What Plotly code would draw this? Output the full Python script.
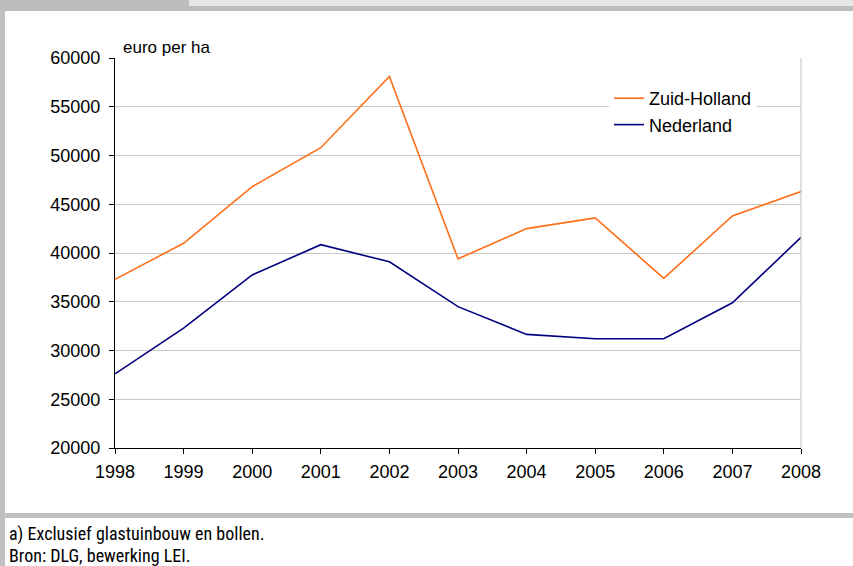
import plotly.graph_objects as go

# Data
years = [1998, 1999, 2000, 2001, 2002, 2003, 2004, 2005, 2006, 2007, 2008]
zuid_holland = [37300, 41000, 46800, 50800, 58100, 39400, 42500, 43600, 37400, 43800, 46300]
nederland = [27600, 32300, 37750, 40850, 39100, 34500, 31650, 31200, 31200, 34900, 41600]

W, H = 853, 566
L, R, T, B = 115, 52, 58, 118
PW, PH = W - L - R, H - T - B


def px_x(x):
    return (x - L) / PW


def px_y(y):
    return 1 - (y - T) / PH


fig = go.Figure()
fig.add_trace(go.Scatter(x=years, y=zuid_holland, name="Zuid-Holland", mode="lines",
                         line=dict(color="#FF6F1A", width=1.6), legendgroup="a"))
fig.add_trace(go.Scatter(x=years, y=nederland, name="Nederland", mode="lines",
                         line=dict(color="#000080", width=1.6), legendgroup="b"))

grey = "#c0c0c0"
shapes = [
    # frame pieces
    dict(type="rect", x0=px_x(0), x1=px_x(5), y0=px_y(0), y1=px_y(H), fillcolor=grey),
    dict(type="rect", x0=px_x(0), x1=px_x(189), y0=px_y(0), y1=px_y(6), fillcolor="#bdbdbd"),
    dict(type="rect", x0=px_x(189), x1=px_x(W), y0=px_y(0), y1=px_y(6), fillcolor="#e6e6e6"),
    dict(type="rect", x0=px_x(0), x1=px_x(W), y0=px_y(6), y1=px_y(11), fillcolor="#bdbdbd"),
    dict(type="rect", x0=px_x(5), x1=px_x(W), y0=px_y(513), y1=px_y(518), fillcolor=grey),
    # right edge of the plot area
    dict(type="line", x0=1, x1=1, y0=0, y1=1, line=dict(color=grey, width=1)),
]
for s in shapes:
    s.update(xref="paper", yref="paper", layer="above")
    if s["type"] == "rect":
        s["line"] = dict(width=0)
fig.update_layout(shapes=shapes)

foot = dict(family="Liberation Sans Narrow, Roboto Condensed, DejaVu Sans Condensed", size=18, color="#000")
fig.add_annotation(text="a) Exclusief glastuinbouw en bollen.", xref="paper", yref="paper",
                   x=px_x(7), y=px_y(534), xanchor="left", yanchor="middle", showarrow=False, font=foot)
fig.add_annotation(text="Bron: DLG, bewerking LEI.", xref="paper", yref="paper",
                   x=px_x(7), y=px_y(555), xanchor="left", yanchor="middle", showarrow=False, font=foot)
fig.add_annotation(text="euro per ha", xref="paper", yref="paper",
                   x=px_x(121), y=px_y(47), xanchor="left", yanchor="middle", showarrow=False,
                   font=dict(family="Liberation Sans, Arial", size=17, color="#000"))

fig.update_layout(
    width=W, height=H,
    margin=dict(l=L, r=R, t=T, b=B),
    paper_bgcolor="white", plot_bgcolor="white",
    font=dict(family="Liberation Sans, Arial", size=18, color="#000"),
    showlegend=True,
    legend=dict(x=px_x(609), y=px_y(80), xanchor="left", yanchor="top", bgcolor="white",
                font=dict(size=18), tracegroupgap=7, traceorder="normal"),
)
fig.update_xaxes(range=[1998, 2008], tickmode="array", tickvals=years, showgrid=False,
                 showline=True, linecolor="#000", linewidth=1, ticks="outside", ticklen=5,
                 tickcolor="#000", zeroline=False, ticklabelstandoff=2)
fig.update_yaxes(range=[20000, 60000], dtick=5000, tickformat="d", showgrid=True, gridcolor="#c8c8c8",
                 gridwidth=1, showline=True, linecolor="#000", linewidth=1, ticks="outside",
                 ticklen=5, tickcolor="#000", zeroline=False, ticklabelstandoff=5)

fig.write_html("out.html", config={"displayModeBar": False},
               post_script="document.body.style.margin='0';")
